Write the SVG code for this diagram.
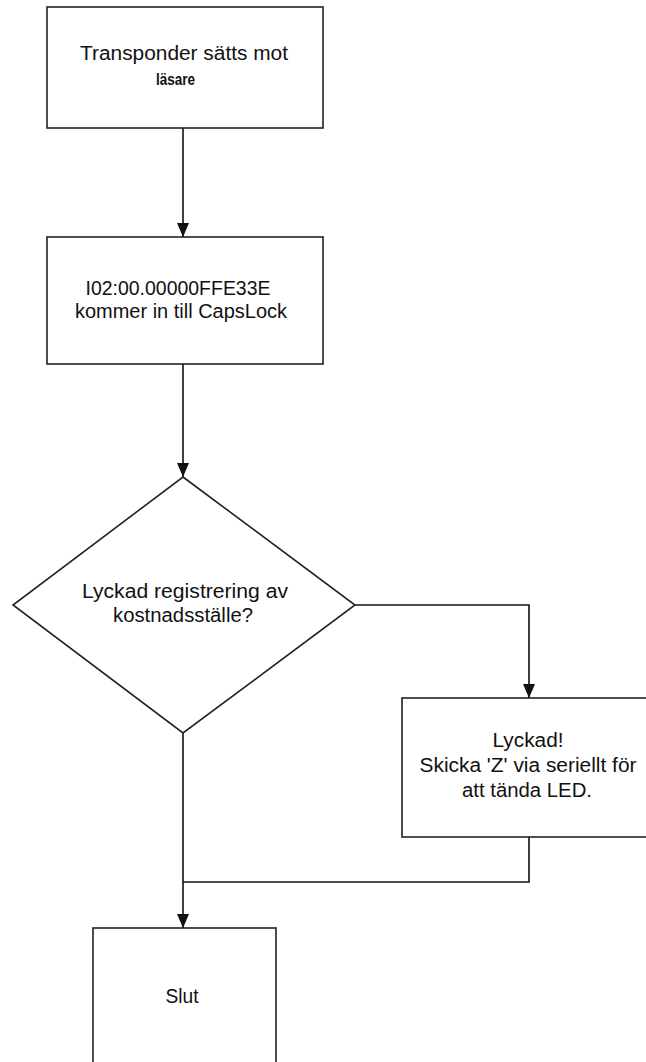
<svg xmlns="http://www.w3.org/2000/svg" width="646" height="1062" viewBox="0 0 646 1062">
<defs>
<marker id="ah" markerWidth="14" markerHeight="12" refX="14" refY="6" orient="auto" markerUnits="userSpaceOnUse" viewBox="0 0 14 12">
<path d="M0,0 L14,6 L0,12 Z" fill="#111"/>
</marker>
</defs>
<style>
.shape{fill:#fff;stroke:#222;stroke-width:1.6}
.conn{fill:none;stroke:#111;stroke-width:1.6}
text{font-family:"Liberation Sans",Arial,sans-serif;font-size:20px;fill:#111;text-anchor:middle}
</style>
<rect width="646" height="1062" fill="#fff"/>
<g id="connectors">
<path class="conn" d="M183,128 V237" marker-end="url(#ah)"/>
<path class="conn" d="M183,364 V477" marker-end="url(#ah)"/>
<path class="conn" d="M355,605 H529 V698" marker-end="url(#ah)"/>
<path class="conn" d="M183,733 V928" marker-end="url(#ah)"/>
<path class="conn" d="M529,837 V882 H183"/>
</g>
<g id="n1">
<rect class="shape" x="47" y="7" width="276" height="121"/>
<text x="184" y="60" textLength="208" lengthAdjust="spacingAndGlyphs">Transponder sätts mot</text>
<text x="156" y="85" style="font-size:16px;text-anchor:start;font-weight:bold" textLength="39" lengthAdjust="spacingAndGlyphs">läsare</text>
</g>
<g id="n2">
<rect class="shape" x="47" y="237" width="276" height="127"/>
<text x="178" y="295" textLength="185" lengthAdjust="spacingAndGlyphs">I02:00.00000FFE33E</text>
<text x="181" y="318" textLength="212" lengthAdjust="spacingAndGlyphs">kommer in till CapsLock</text>
</g>
<g id="n3">
<polygon class="shape" points="183,477 355,605 183,733 13,605"/>
<text x="185" y="598" textLength="206" lengthAdjust="spacingAndGlyphs">Lyckad registrering av</text>
<text x="183" y="622" textLength="140" lengthAdjust="spacingAndGlyphs">kostnadsställe?</text>
</g>
<g id="n4">
<rect class="shape" x="402" y="698" width="260" height="139"/>
<text x="528" y="747" textLength="71" lengthAdjust="spacingAndGlyphs">Lyckad!</text>
<text x="528" y="772" textLength="217" lengthAdjust="spacingAndGlyphs">Skicka 'Z' via seriellt för</text>
<text x="527" y="797" textLength="130" lengthAdjust="spacingAndGlyphs">att tända LED.</text>
</g>
<g id="n5">
<rect class="shape" x="93" y="928" width="183" height="150"/>
<text x="182" y="1003" textLength="33" lengthAdjust="spacingAndGlyphs">Slut</text>
</g>
</svg>
